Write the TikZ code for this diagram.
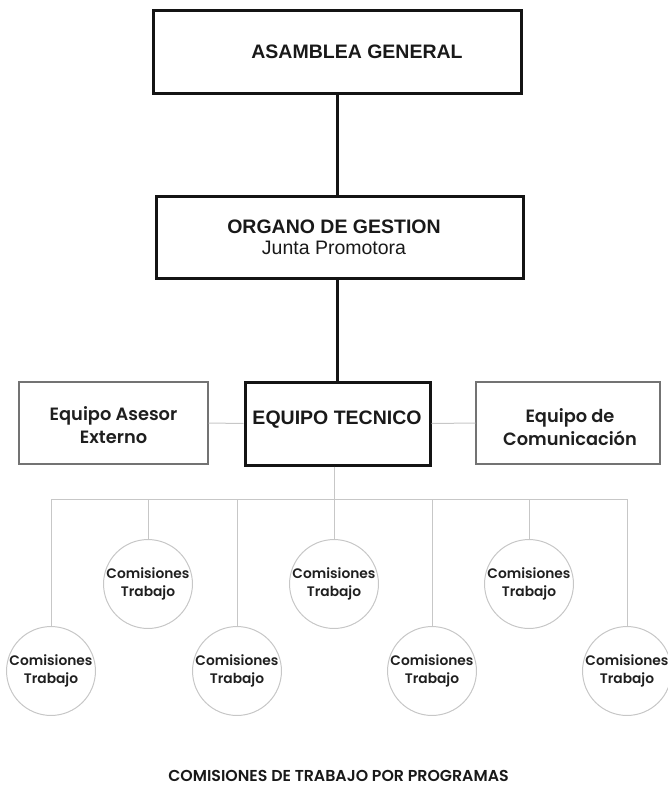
\documentclass[tikz,border=0pt]{standalone}
\usepackage{fontspec}
\setmainfont{Liberation Sans}
\newfontfamily\gothic{Poppins}[BoldFont={Poppins SemiBold}]
\begin{document}
\begin{tikzpicture}[x=1pt,y=-1pt,
  mainbox/.style={draw=black!92,line width=3pt,inner sep=0pt},
  sidebox/.style={draw=black!55,line width=1.3pt,inner sep=0pt},
  mainline/.style={draw=black!92,line width=3pt},
  thinline/.style={draw=black!22,line width=1pt},
  comision/.style={circle,draw=black!22,line width=1pt,minimum size=85pt,inner sep=0pt,
    font=\gothic\bfseries\fontsize{13.8}{18}\selectfont,align=center,text=black!88},
  title/.style={font=\bfseries\fontsize{19.5}{21}\selectfont,text=black!90,inner sep=0pt},
  sidetext/.style={font=\gothic\bfseries\fontsize{17.8}{23}\selectfont,align=center,text=black!88,inner sep=0pt}]
\useasboundingbox (0,0) rectangle (668,787);

% governing bodies
\node[mainbox,minimum width=368pt,minimum height=83pt] (asamblea) at (337,51.5) {};
\node[title] (asamblea-t) at (357,52) {ASAMBLEA GENERAL};

\node[mainbox,minimum width=367pt,minimum height=82pt] (organo) at (339.5,237) {};
\node[title,align=center,font=\fontsize{19.5}{21}\selectfont] (organo-t) at (334,237.5)
  {\bfseries ORGANO DE GESTION\\ Junta Promotora};

% technical level
\node[mainbox,minimum width=185pt,minimum height=83pt] (tecnico) at (337.5,423.5) {};
\node[title] (tecnico-t) at (337,420) {EQUIPO TECNICO};

\node[sidebox,minimum width=189pt,minimum height=82pt] (asesor) at (113.5,423) {};
\node[sidetext] (asesor-t) at (113.5,425) {Equipo Asesor\\Externo};

\node[sidebox,minimum width=184pt,minimum height=82pt] (comunic) at (568,423) {};
\node[sidetext] (comunic-t) at (570,427) {Equipo de\\Comunicación};

% working commissions
\node[comision] (c1) at (51,671)  {Comisiones\\Trabajo};
\node[comision] (c2) at (148,584) {Comisiones\\Trabajo};
\node[comision] (c3) at (237,671) {Comisiones\\Trabajo};
\node[comision] (c4) at (334,584) {Comisiones\\Trabajo};
\node[comision] (c5) at (432,671) {Comisiones\\Trabajo};
\node[comision] (c6) at (529,584) {Comisiones\\Trabajo};
\node[comision] (c7) at (627,671) {Comisiones\\Trabajo};

\node[font=\gothic\bfseries\fontsize{15.8}{17}\selectfont,text=black!90,inner sep=0pt] (caption)
  at (338.5,775.5) {COMISIONES DE TRABAJO POR PROGRAMAS};

% connectors
\coordinate (bus) at (334,499);
\draw[mainline] (asamblea.south -| tecnico.north) -- (organo.north -| tecnico.north);
\draw[mainline] (organo.south -| tecnico.north) -- (tecnico.north);
\draw[thinline] (asesor.east) -- (tecnico.west);
\draw[thinline] (tecnico.east) -- (comunic.west);
\draw[thinline] (tecnico.south -| c4) -- (c4.north);
\draw[thinline] (c1.north) -- (c1 |- bus) -- (c7 |- bus) -- (c7.north);
\foreach \c in {c2,c3,c5,c6}
  \draw[thinline] (\c.north) -- (\c |- bus);
\end{tikzpicture}
\end{document}
